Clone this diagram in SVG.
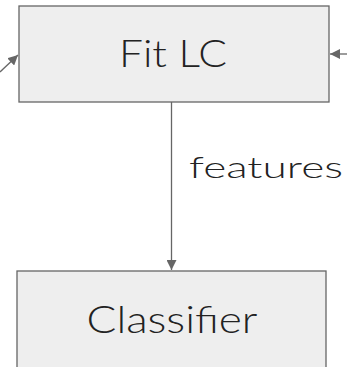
<svg xmlns="http://www.w3.org/2000/svg" width="347" height="367" viewBox="0 0 347 367">
<style>
.box{fill:#eeeeee;stroke:#666666;stroke-width:1.3}
.lbl{font-family:Lato,"Noto Sans",sans-serif;font-weight:300;fill:#222222;text-anchor:middle}
.edge{stroke:#666666;stroke-width:1.3;fill:none}
</style>
<defs>
<marker id="arr" viewBox="0 0 10 10" refX="10" refY="5" markerWidth="10" markerHeight="10" markerUnits="userSpaceOnUse" orient="auto">
<path d="M0,0 L10,5 L0,10 z" fill="#666666"/>
</marker>
</defs>
<rect width="347" height="367" fill="#ffffff"/>
<g id="fitlc">
<rect class="box" x="19" y="6" width="310" height="96"/>
<text class="lbl" x="173" y="67" font-size="38" textLength="108" lengthAdjust="spacingAndGlyphs">Fit LC</text>
</g>
<g id="classifier">
<rect class="box" x="17" y="271" width="309" height="110"/>
<text class="lbl" x="172" y="333" font-size="38" textLength="171" lengthAdjust="spacingAndGlyphs">Classifier</text>
</g>
<g id="connectors">
<line class="edge" x1="171.5" y1="102" x2="171.5" y2="270" marker-end="url(#arr)"/>
<line class="edge" x1="0" y1="72" x2="18" y2="55" marker-end="url(#arr)"/>
<line class="edge" x1="347" y1="54" x2="330" y2="54" marker-end="url(#arr)"/>
<text class="lbl" x="266" y="178" font-size="30" textLength="154" lengthAdjust="spacingAndGlyphs">features</text>
</g>
</svg>
